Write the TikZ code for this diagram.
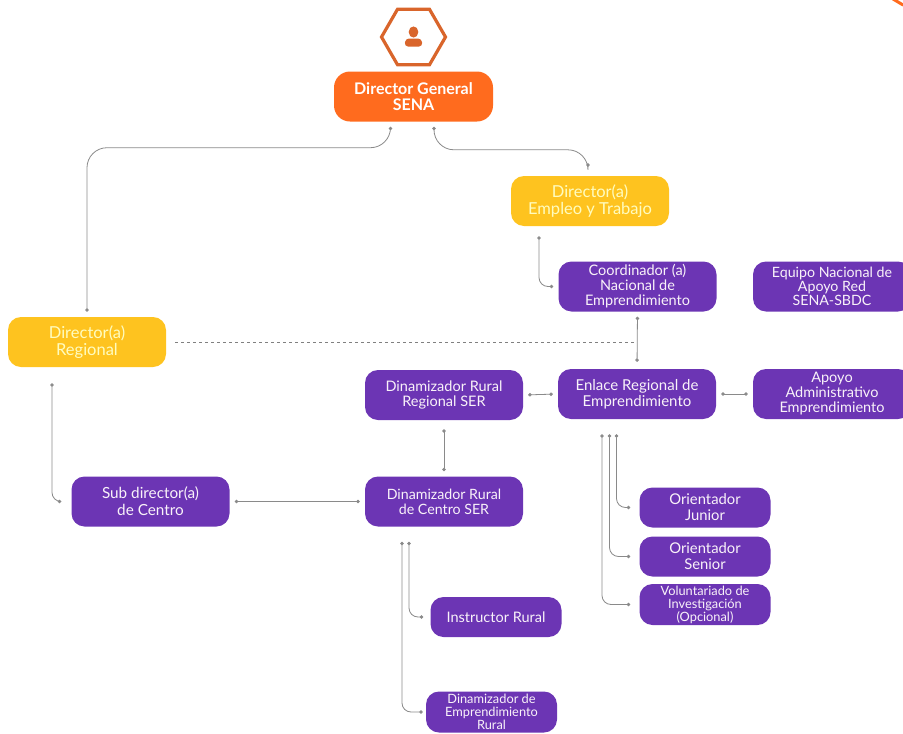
\documentclass[tikz,border=0pt]{standalone}
\usepackage{fontspec}
\setmainfont{Lato}
\usetikzlibrary{arrows.meta,shapes.geometric}
\definecolor{gralorange}{HTML}{FF6B1E}
\definecolor{hexorange}{HTML}{D9652B}
\definecolor{diryellow}{HTML}{FEC31F}
\definecolor{ruralpurple}{HTML}{6C35B4}
\definecolor{linkgray}{HTML}{8A8A8A}
\newcommand{\fsz}[2]{\fontsize{#1}{#2}\selectfont}
\tikzset{
  cargo/.style={rounded corners=13pt,minimum width=158pt,minimum height=50pt,inner sep=0pt,align=center,text=white,font=\fsz{14.5}{15}},
  gral/.style={cargo,fill=gralorange,minimum width=159pt,rounded corners=16pt,font=\bfseries\fsz{16}{16.5}},
  dir/.style={cargo,fill=diryellow,text=yellow!25!white,font=\fsz{16.5}{17.5}},
  pur/.style={cargo,fill=ruralpurple,text=violet!5!white},
  purs/.style={pur,minimum width=131pt,minimum height=40pt},
  link/.style={linkgray,line width=0.8pt,{Circle[length=3.5pt]}-{Circle[length=3.5pt]},shorten <=5pt,shorten >=5pt},
  elbow/.style={link,rounded corners=9pt}
}
\begin{document}
\begin{tikzpicture}[x=1pt,y=-1pt]
\useasboundingbox (0,0) rectangle (903,734);
\draw[gralorange,line width=3pt,line cap=round] (893,-1) -- (903,5);
\node[regular polygon,regular polygon sides=6,minimum size=64pt,inner sep=0pt,draw=hexorange,line width=3.2pt,fill=white] (hex) at (413.5,37) {};
\fill[hexorange] ([yshift=5pt]hex.center) ellipse (4.8pt and 5.6pt);
\fill[hexorange,rounded corners=3.5pt] (404.5,46.5) -- (405.5,38.5) -- (421.5,38.5) -- (422.5,46.5) -- cycle;
\node[gral] (dgral) at (413.5,96.5) {Director General\\SENA};
\node[dir] (dempleo) at (590,201) {Director(a)\\Empleo y Trabajo};
\node[dir] (dreg) at (87,342) {Director(a)\\Regional};
\node[pur] (coord) at (637.5,286.5) {Coordinador (a)\\Nacional de\\Emprendimiento};
\node[pur,font=\fsz{14.2}{14}] (equipo) at (832,286.5) {Equipo Nacional de\\Apoyo Red\\SENA-SBDC};
\node[pur,font=\fsz{15}{16}] (enlace) at (637,394) {Enlace Regional de\\Emprendimiento};
\node[pur] (apoyo) at (832,394) {Apoyo\\Administrativo\\Emprendimiento};
\node[pur] (dinreg) at (444,395) {Dinamizador Rural\\Regional SER};
\node[pur,font=\fsz{14.2}{15}] (dincen) at (444,501.5) {Dinamizador Rural\\de Centro SER};
\node[pur,font=\fsz{15.3}{17}] (subdir) at (150.5,501.5) {Sub director(a)\\de Centro};
\node[purs,font=\fsz{14.8}{16}] (junior) at (705,507.5) {Orientador\\Junior};
\node[purs,font=\fsz{14.8}{16}] (senior) at (705,556.5) {Orientador\\Senior};
\node[purs,minimum height=41pt,font=\fsz{12.8}{13}] (volun) at (705,604.5) {Voluntariado de\\Investigación\\(Opcional)};
\node[purs] (instr) at (496,617) {Instructor Rural};
\node[purs,minimum height=41pt,font=\fsz{12.8}{12.8}] (dinemp) at (491.5,712) {Dinamizador de\\Emprendimiento\\Rural};
\draw[elbow,rounded corners=20pt] (dreg.north) |- ([xshift=-23pt,yshift=-26pt]dgral.south) -- ([xshift=-23pt]dgral.south);
\draw[elbow,rounded corners=20pt,shorten >=9pt] ([xshift=20.5pt]dgral.south) |- ([xshift=-2pt,yshift=26pt]dempleo.north) -- ([xshift=-2pt]dempleo.north);
\draw[elbow,shorten <=10pt] ([xshift=-51pt]dempleo.south) |- (coord.west);
\draw[link,shorten >=7pt] (coord.south) -- (enlace.north);
\draw[gray,line width=0.8pt,dashed,shorten <=9pt] (dreg.east) -- (dreg.east -| enlace.north);
\draw[link] (dinreg.east) -- (enlace.west);
\draw[link] (enlace.east) -- (apoyo.west);
\draw[link,shorten <=9pt] (dinreg.south) -- (dincen.north);
\draw[elbow,shorten <=16pt,shorten >=10pt] ([xshift=-35pt]dreg.south) |- (subdir.west);
\draw[link] (subdir.east) -- (dincen.west);
\draw[elbow,shorten <=15pt,shorten >=9pt] ([xshift=-20.5pt]enlace.south) |- (junior.west);
\draw[elbow,shorten <=15pt,shorten >=9pt] ([xshift=-27.5pt]enlace.south) |- (senior.west);
\draw[elbow,shorten <=15pt,shorten >=9pt] ([xshift=-35pt]enlace.south) |- (volun.west);
\draw[elbow,shorten <=15pt,shorten >=7pt] ([xshift=-35pt]dincen.south) |- (instr.west);
\draw[elbow,shorten <=15pt,shorten >=3pt] ([xshift=-42pt]dincen.south) |- (dinemp.west);
\end{tikzpicture}
\end{document}
